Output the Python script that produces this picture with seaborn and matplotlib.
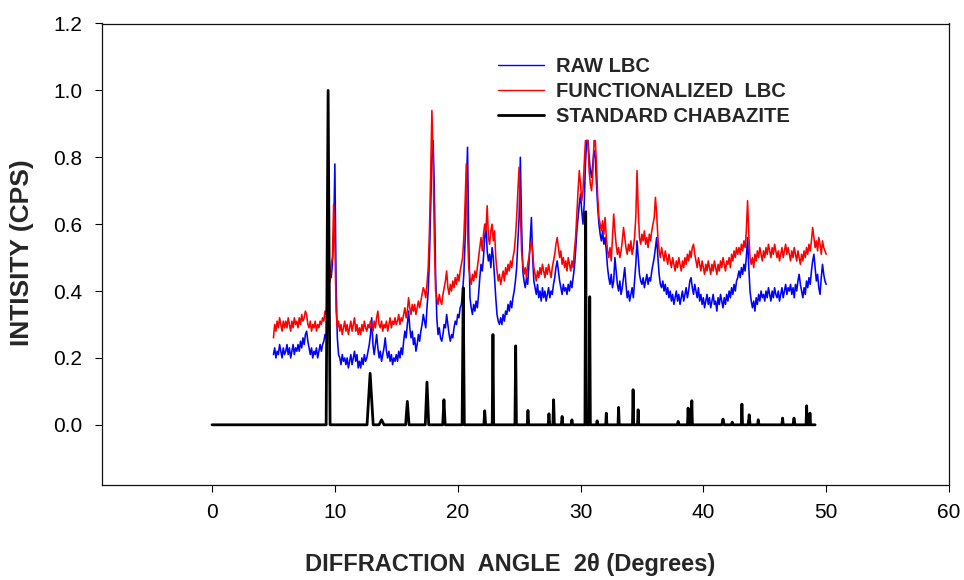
import numpy as np
import pandas as pd
import matplotlib
matplotlib.use("Agg")
import matplotlib.pyplot as plt
import seaborn as sns

# ---------------- data ----------------
# two-theta sampling grid for the measured patterns: 5.0 .. 50.0 deg, 0.1 deg step
two_theta_start, two_theta_stop, two_theta_step = 5.0, 50.0, 0.1

raw_lbc = [
    0.21, 0.23, 0.20, 0.22, 0.21, 0.24, 0.22, 0.20, 0.23, 0.21,   # 5
    0.22, 0.24, 0.21, 0.23, 0.20, 0.22, 0.24, 0.21, 0.23, 0.22,   # 6
    0.24, 0.22, 0.25, 0.23, 0.26, 0.24, 0.27, 0.28, 0.25, 0.23,   # 7
    0.21, 0.23, 0.20, 0.22, 0.21, 0.23, 0.20, 0.22, 0.24, 0.22,   # 8
    0.24, 0.25, 0.27, 0.26, 0.30, 0.38, 0.47, 0.44, 0.48, 0.56,   # 9
    0.78, 0.42, 0.26, 0.21, 0.20, 0.18, 0.21, 0.19, 0.20, 0.18,   # 10
    0.20, 0.17, 0.19, 0.21, 0.18, 0.20, 0.22, 0.19, 0.21, 0.17,   # 11
    0.19, 0.17, 0.20, 0.18, 0.21, 0.19, 0.20, 0.22, 0.24, 0.27,   # 12
    0.32, 0.24, 0.21, 0.24, 0.27, 0.23, 0.20, 0.22, 0.19, 0.21,   # 13
    0.23, 0.26, 0.22, 0.20, 0.22, 0.19, 0.21, 0.18, 0.20, 0.19,   # 14
    0.21, 0.19, 0.22, 0.20, 0.23, 0.21, 0.25, 0.28, 0.26, 0.30,   # 15
    0.34, 0.29, 0.26, 0.28, 0.24, 0.26, 0.22, 0.24, 0.27, 0.25,   # 16
    0.28, 0.30, 0.33, 0.31, 0.29, 0.35, 0.40, 0.50, 0.65, 0.80,   # 17
    0.85, 0.70, 0.45, 0.32, 0.27, 0.29, 0.26, 0.25, 0.27, 0.30,   # 18
    0.29, 0.33, 0.30, 0.27, 0.25, 0.27, 0.26, 0.29, 0.31, 0.30,   # 19
    0.33, 0.32, 0.35, 0.36, 0.40, 0.45, 0.55, 0.70, 0.83, 0.55,   # 20
    0.38, 0.35, 0.33, 0.36, 0.34, 0.37, 0.35, 0.39, 0.44, 0.48,   # 21
    0.46, 0.50, 0.56, 0.60, 0.52, 0.49, 0.51, 0.47, 0.53, 0.50,   # 22
    0.44, 0.38, 0.33, 0.31, 0.30, 0.32, 0.30, 0.33, 0.31, 0.34,   # 23
    0.33, 0.36, 0.34, 0.37, 0.35, 0.38, 0.40, 0.43, 0.47, 0.55,   # 24
    0.62, 0.80, 0.60, 0.46, 0.43, 0.41, 0.44, 0.42, 0.48, 0.55,   # 25
    0.62, 0.50, 0.43, 0.41, 0.39, 0.42, 0.38, 0.40, 0.37, 0.41,   # 26
    0.38, 0.40, 0.37, 0.39, 0.41, 0.38, 0.40, 0.39, 0.42, 0.44,   # 27
    0.47, 0.49, 0.46, 0.43, 0.41, 0.39, 0.42, 0.40, 0.41, 0.39,   # 28
    0.42, 0.40, 0.43, 0.41, 0.44, 0.47, 0.52, 0.58, 0.62, 0.66,   # 29
    0.69, 0.64, 0.60, 0.66, 0.78, 0.85, 0.85, 0.80, 0.76, 0.74,   # 30
    0.78, 0.82, 0.80, 0.72, 0.65, 0.60, 0.57, 0.55, 0.58, 0.54,   # 31
    0.56, 0.52, 0.47, 0.44, 0.42, 0.45, 0.41, 0.43, 0.50, 0.46,   # 32
    0.42, 0.40, 0.43, 0.39, 0.41, 0.44, 0.47, 0.42, 0.38, 0.40,   # 33
    0.37, 0.39, 0.41, 0.38, 0.43, 0.48, 0.55, 0.50, 0.45, 0.43,   # 34
    0.42, 0.44, 0.41, 0.43, 0.45, 0.42, 0.44, 0.43, 0.46, 0.48,   # 35
    0.50, 0.53, 0.56, 0.50, 0.45, 0.42, 0.41, 0.43, 0.40, 0.42,   # 36
    0.39, 0.41, 0.38, 0.40, 0.37, 0.39, 0.36, 0.38, 0.40, 0.37,   # 37
    0.39, 0.36, 0.38, 0.40, 0.37, 0.39, 0.41, 0.38, 0.40, 0.43,   # 38
    0.44, 0.41, 0.39, 0.42, 0.40, 0.38, 0.41, 0.37, 0.39, 0.36,   # 39
    0.38, 0.35, 0.37, 0.39, 0.36, 0.38, 0.35, 0.37, 0.39, 0.36,   # 40
    0.37, 0.34, 0.38, 0.36, 0.39, 0.37, 0.35, 0.38, 0.36, 0.39,   # 41
    0.37, 0.40, 0.38, 0.41, 0.39, 0.42, 0.40, 0.43, 0.44, 0.46,   # 42
    0.44, 0.47, 0.45, 0.48, 0.46, 0.50, 0.56, 0.47, 0.40, 0.37,   # 43
    0.35, 0.37, 0.34, 0.38, 0.36, 0.39, 0.37, 0.40, 0.38, 0.39,   # 44
    0.37, 0.40, 0.38, 0.41, 0.39, 0.37, 0.40, 0.38, 0.41, 0.39,   # 45
    0.38, 0.40, 0.37, 0.39, 0.41, 0.38, 0.40, 0.42, 0.39, 0.41,   # 46
    0.40, 0.42, 0.39, 0.41, 0.38, 0.42, 0.40, 0.43, 0.45, 0.42,   # 47
    0.40, 0.38, 0.41, 0.39, 0.43, 0.41, 0.44, 0.42, 0.46, 0.49,   # 48
    0.51, 0.47, 0.43, 0.45, 0.41, 0.39, 0.44, 0.48, 0.45, 0.43,   # 49
    0.42,                                                         # 50
]

functionalized_lbc = [
    0.26, 0.30, 0.28, 0.31, 0.29, 0.32, 0.30, 0.28, 0.31, 0.29,   # 5
    0.31, 0.29, 0.32, 0.30, 0.28, 0.31, 0.29, 0.32, 0.30, 0.31,   # 6
    0.29, 0.32, 0.30, 0.33, 0.31, 0.32, 0.34, 0.33, 0.30, 0.29,   # 7
    0.31, 0.28, 0.30, 0.29, 0.31, 0.28, 0.30, 0.29, 0.31, 0.30,   # 8
    0.32, 0.31, 0.34, 0.33, 0.38, 0.45, 0.43, 0.48, 0.50, 0.66,   # 9
    0.55, 0.34, 0.29, 0.31, 0.28, 0.30, 0.27, 0.29, 0.31, 0.28,   # 10
    0.30, 0.27, 0.29, 0.31, 0.28, 0.30, 0.32, 0.28, 0.30, 0.27,   # 11
    0.29, 0.27, 0.30, 0.28, 0.31, 0.29, 0.28, 0.30, 0.29, 0.31,   # 12
    0.30, 0.28, 0.31, 0.29, 0.32, 0.34, 0.30, 0.29, 0.31, 0.28,   # 13
    0.30, 0.29, 0.31, 0.28, 0.30, 0.32, 0.29, 0.31, 0.30, 0.32,   # 14
    0.30, 0.31, 0.33, 0.30, 0.32, 0.31, 0.33, 0.35, 0.32, 0.34,   # 15
    0.38, 0.35, 0.33, 0.36, 0.34, 0.36, 0.33, 0.35, 0.37, 0.35,   # 16
    0.37, 0.39, 0.41, 0.40, 0.38, 0.42, 0.47, 0.58, 0.75, 0.94,   # 17
    0.80, 0.55, 0.40, 0.38, 0.36, 0.39, 0.37, 0.36, 0.39, 0.41,   # 18
    0.43, 0.46, 0.41, 0.39, 0.42, 0.40, 0.43, 0.41, 0.44, 0.42,   # 19
    0.45, 0.43, 0.46, 0.48, 0.50, 0.56, 0.66, 0.78, 0.58, 0.47,   # 20
    0.44, 0.42, 0.45, 0.43, 0.46, 0.44, 0.47, 0.50, 0.53, 0.56,   # 21
    0.52, 0.57, 0.60, 0.58, 0.655, 0.56, 0.54, 0.58, 0.60, 0.55,  # 22
    0.58, 0.50, 0.46, 0.43, 0.45, 0.42, 0.44, 0.46, 0.43, 0.47,   # 23
    0.45, 0.48, 0.46, 0.49, 0.47, 0.50, 0.52, 0.56, 0.62, 0.70,   # 24
    0.77, 0.65, 0.52, 0.48, 0.45, 0.47, 0.44, 0.48, 0.50, 0.53,   # 25
    0.55, 0.52, 0.47, 0.45, 0.43, 0.46, 0.44, 0.47, 0.45, 0.48,   # 26
    0.46, 0.44, 0.47, 0.45, 0.48, 0.46, 0.44, 0.47, 0.49, 0.51,   # 27
    0.54, 0.56, 0.53, 0.50, 0.52, 0.48, 0.50, 0.47, 0.49, 0.46,   # 28
    0.50, 0.48, 0.46, 0.49, 0.47, 0.52, 0.56, 0.63, 0.70, 0.76,   # 29
    0.72, 0.67, 0.70, 0.78, 0.85, 0.85, 0.85, 0.76, 0.72, 0.70,   # 30
    0.75, 0.85, 0.85, 0.78, 0.68, 0.62, 0.60, 0.58, 0.61, 0.57,   # 31
    0.62, 0.56, 0.52, 0.50, 0.53, 0.49, 0.56, 0.63, 0.58, 0.54,   # 32
    0.51, 0.53, 0.50, 0.52, 0.55, 0.59, 0.56, 0.53, 0.51, 0.54,   # 33
    0.52, 0.55, 0.51, 0.53, 0.56, 0.62, 0.76, 0.64, 0.56, 0.54,   # 34
    0.57, 0.55, 0.58, 0.54, 0.56, 0.53, 0.57, 0.55, 0.58, 0.60,   # 35
    0.62, 0.68, 0.63, 0.56, 0.52, 0.50, 0.53, 0.51, 0.49, 0.52,   # 36
    0.50, 0.48, 0.51, 0.49, 0.47, 0.50, 0.48, 0.46, 0.49, 0.47,   # 37
    0.50, 0.48, 0.46, 0.49, 0.47, 0.50, 0.48, 0.51, 0.49, 0.52,   # 38
    0.50, 0.53, 0.54, 0.51, 0.49, 0.47, 0.50, 0.48, 0.46, 0.49,   # 39
    0.47, 0.45, 0.48, 0.46, 0.49, 0.47, 0.45, 0.48, 0.46, 0.49,   # 40
    0.47, 0.45, 0.48, 0.46, 0.49, 0.47, 0.50, 0.48, 0.46, 0.49,   # 41
    0.48, 0.50, 0.47, 0.51, 0.49, 0.52, 0.50, 0.53, 0.51, 0.53,   # 42
    0.51, 0.54, 0.52, 0.55, 0.53, 0.58, 0.67, 0.57, 0.50, 0.48,   # 43
    0.50, 0.47, 0.51, 0.49, 0.52, 0.50, 0.53, 0.51, 0.49, 0.52,   # 44
    0.50, 0.53, 0.51, 0.54, 0.52, 0.50, 0.53, 0.51, 0.54, 0.52,   # 45
    0.50, 0.52, 0.49, 0.51, 0.53, 0.50, 0.52, 0.54, 0.51, 0.53,   # 46
    0.51, 0.49, 0.52, 0.50, 0.53, 0.51, 0.49, 0.52, 0.50, 0.48,   # 47
    0.51, 0.49, 0.52, 0.50, 0.53, 0.51, 0.54, 0.52, 0.55, 0.59,   # 48
    0.56, 0.53, 0.55, 0.52, 0.56, 0.54, 0.51, 0.55, 0.53, 0.52,   # 49
    0.51,                                                         # 50
]

# standard chabazite reference pattern: peak positions (deg), heights, half base widths
chabazite_range = [0.0, 49.1]
chabazite_pos = [9.45, 12.87, 13.8, 15.9, 17.5, 18.88, 20.45, 22.2, 22.87, 24.72,
                 25.72, 27.43, 27.81, 28.5, 29.3, 30.42, 30.75, 31.35, 32.1, 33.1,
                 34.28, 34.69, 37.95, 38.76, 39.06, 41.6, 42.35, 43.14, 43.73, 44.47,
                 46.45, 47.38, 48.41, 48.68]
chabazite_int = [1.0, 0.154, 0.015, 0.07, 0.128, 0.075, 0.41, 0.042, 0.27, 0.236,
                 0.043, 0.033, 0.075, 0.025, 0.015, 0.637, 0.383, 0.012, 0.035, 0.052,
                 0.105, 0.045, 0.01, 0.05, 0.072, 0.017, 0.008, 0.062, 0.03, 0.015,
                 0.02, 0.02, 0.057, 0.035]
chabazite_halfwidth = [0.16, 0.25, 0.2, 0.14, 0.14, 0.1, 0.09, 0.07, 0.06, 0.06,
                       0.06, 0.06, 0.06, 0.06, 0.06, 0.06, 0.05, 0.05, 0.05, 0.05,
                       0.05, 0.05, 0.08, 0.05, 0.05, 0.1, 0.08, 0.05, 0.08, 0.06,
                       0.06, 0.08, 0.05, 0.05]

series_labels = ["RAW LBC", "FUNCTIONALIZED  LBC", "STANDARD CHABAZITE"]
x_ticks = [0, 10, 20, 30, 40, 50, 60]
y_ticks = [0.0, 0.2, 0.4, 0.6, 0.8, 1.0, 1.2]

# ---------------- build tables ----------------
n = len(raw_lbc)
two_theta = np.round(two_theta_start + two_theta_step * np.arange(n), 2)
df_raw = pd.DataFrame({"two_theta": two_theta, "intensity": raw_lbc})
df_fun = pd.DataFrame({"two_theta": two_theta, "intensity": functionalized_lbc})

cx, cy = [chabazite_range[0]], [0.0]
for p, h, w in zip(chabazite_pos, chabazite_int, chabazite_halfwidth):
    cx += [p - w, p, p + w]
    cy += [0.0, h, 0.0]
cx.append(chabazite_range[1]); cy.append(0.0)
df_cha = pd.DataFrame({"two_theta": cx, "intensity": cy})

# ---------------- plot ----------------
sns.set_theme(style="white")
plt.rcParams["font.family"] = ["Liberation Sans", "DejaVu Sans"]

fig = plt.figure(figsize=(9.64, 5.80), dpi=100)
ax = fig.add_axes([101.5 / 964, 1 - 485 / 580, (949 - 101.5) / 964, (485 - 23.5) / 580])

sns.lineplot(data=df_raw, x="two_theta", y="intensity", color="#0000FF", lw=1.15,
             label=series_labels[0], ax=ax, sort=False, estimator=None)
sns.lineplot(data=df_fun, x="two_theta", y="intensity", color="#FF0000", lw=1.15,
             label=series_labels[1], ax=ax, sort=False, estimator=None)
sns.lineplot(data=df_cha, x="two_theta", y="intensity", color="black", lw=2.0,
             label=series_labels[2], ax=ax, sort=False, estimator=None)

ax.set_xlim(-9, 60)
ax.set_ylim(-0.18, 1.2)
ax.set_xticks(x_ticks)
ax.set_yticks(y_ticks)
ax.set_xticklabels([str(t) for t in x_ticks])
ax.set_yticklabels([f"{t:.1f}" for t in y_ticks])
ax.tick_params(axis="both", which="major", direction="out", length=5, width=0.8,
               color="black", labelsize=15, labelcolor="black", bottom=True, left=True,
               top=False, right=False)
ax.tick_params(axis="x", pad=8)
ax.tick_params(axis="y", pad=9)
for s in ax.spines.values():
    s.set_visible(True)
    s.set_color("#111111")
    s.set_linewidth(0.9)

ax.set_xlabel("DIFFRACTION  ANGLE  2θ (Degrees)", fontsize=17, fontweight="bold")
ax.set_ylabel("INTISITY (CPS)", fontsize=19, fontweight="bold")
ax.xaxis.set_label_coords(0.482, -0.173)
ax.yaxis.set_label_coords(-0.094, 0.504)
ax.xaxis.label.set_va("center")
ax.yaxis.label.set_va("center")

leg = ax.legend(loc="upper left", bbox_to_anchor=(0.468, 0.927), frameon=False,
                prop={"weight": "bold", "size": 14.5}, handlelength=2.3,
                handletextpad=0.55, labelspacing=0.3, borderpad=0, borderaxespad=0)
for line, w in zip(leg.get_lines(), [1.0, 1.0, 2.0]):
    line.set_linewidth(w)

fig.savefig("out.png", dpi=100)
